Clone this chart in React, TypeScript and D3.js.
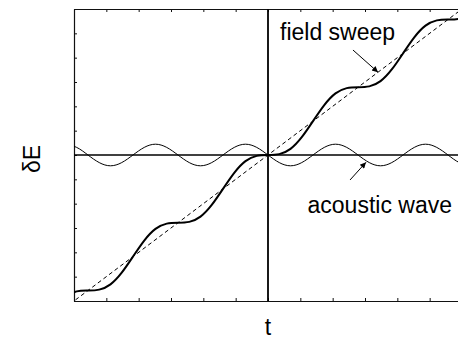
import React, { useEffect, useRef } from "react";
import * as d3 from "d3";

// time samples (eighth-period spacing)
const tGrid = [
  -1.044, -0.986, -0.928, -0.87, -0.812, -0.754, -0.696, -0.638, -0.58, -0.522,
  -0.464, -0.406, -0.348, -0.29, -0.232, -0.174, -0.116, -0.058, 0,
  0.058, 0.116, 0.174, 0.232, 0.29, 0.348, 0.406, 0.464, 0.522, 0.58,
  0.638, 0.696, 0.754, 0.812, 0.87, 0.928, 0.986, 1.044,
];
// acoustic wave δE
const waveValues = [
  0.074, 0.052, 0, -0.052, -0.074, -0.052, 0, 0.052, 0.074, 0.052,
  0, -0.052, -0.074, -0.052, 0, 0.052, 0.074, 0.052, 0,
  -0.052, -0.074, -0.052, 0, 0.052, 0.074, 0.052, 0, -0.052, -0.074,
  -0.052, 0, 0.052, 0.074, 0.052, 0, -0.052, -0.074,
];
// total δE (field sweep + acoustic wave)
const totalValues = [
  -0.97, -0.934, -0.928, -0.922, -0.886, -0.806, -0.696, -0.586, -0.506, -0.47,
  -0.464, -0.458, -0.422, -0.342, -0.232, -0.122, -0.042, -0.006, 0,
  0.006, 0.042, 0.122, 0.232, 0.342, 0.422, 0.458, 0.464, 0.47, 0.506,
  0.586, 0.696, 0.806, 0.886, 0.922, 0.928, 0.934, 0.97,
];
// field sweep (linear)
const sweepT = [-1.05, 1.05];
const sweepValues = [-1.05, 1.05];

const xTicks = [-1, -5 / 6, -4 / 6, -3 / 6, -2 / 6, -1 / 6, 0, 1 / 6, 2 / 6, 3 / 6, 4 / 6, 5 / 6, 1];
const yTicks = [-1, -5 / 6, -4 / 6, -3 / 6, -2 / 6, -1 / 6, 0, 1 / 6, 2 / 6, 3 / 6, 4 / 6, 5 / 6, 1];

const FONT = "'Liberation Sans', Arial, sans-serif";

export default function App() {
  const ref = useRef<SVGSVGElement>(null);

  useEffect(() => {
    const svg = d3.select(ref.current);
    svg.selectAll("*").remove();

    const left = 74, right = 462, top = 9, bottom = 301;
    const x = d3.scaleLinear().domain([-1, 1]).range([left, right]);
    const y = d3.scaleLinear().domain([-1, 1]).range([bottom, top]);

    const defs = svg.append("defs");
    defs.append("clipPath").attr("id", "plotclip")
      .append("rect").attr("x", left).attr("y", top)
      .attr("width", right - left).attr("height", bottom - top);
    defs.append("marker").attr("id", "arrow")
      .attr("viewBox", "0 0 10 10").attr("refX", 10).attr("refY", 5)
      .attr("markerWidth", 9).attr("markerHeight", 6)
      .attr("markerUnits", "userSpaceOnUse").attr("orient", "auto")
      .append("path").attr("d", "M0,0 L10,5 L0,10 Z").attr("fill", "#000");

    // axes (ticks inward, no labels)
    const axisStyle = (g: any) => {
      g.selectAll("path").attr("stroke", "#111").attr("stroke-width", 1.2);
      g.selectAll("line").attr("stroke", "#111").attr("stroke-width", 1);
      g.selectAll("text").remove();
    };
    svg.append("g").attr("transform", `translate(0,${bottom})`)
      .call(d3.axisBottom(x).tickValues(xTicks).tickSize(-3).tickSizeOuter(0).tickFormat(() => ""))
      .call(axisStyle);
    svg.append("g").attr("transform", `translate(0,${top})`)
      .call(d3.axisTop(x).tickValues(xTicks).tickSize(-3).tickSizeOuter(0).tickFormat(() => ""))
      .call(axisStyle);
    svg.append("g").attr("transform", `translate(${left},0)`)
      .call(d3.axisLeft(y).tickValues(yTicks).tickSize(-3).tickSizeOuter(0).tickFormat(() => ""))
      .call(axisStyle);

    const plot = svg.append("g").attr("clip-path", "url(#plotclip)");

    // center lines
    plot.append("line").attr("x1", x(0)).attr("x2", x(0)).attr("y1", top).attr("y2", bottom)
      .attr("stroke", "#000").attr("stroke-width", 1.8);
    plot.append("line").attr("x1", left).attr("x2", right).attr("y1", y(0)).attr("y2", y(0))
      .attr("stroke", "#000").attr("stroke-width", 1.5);

    const lineGen = d3.line<[number, number]>()
      .x((d) => x(d[0])).y((d) => y(d[1])).curve(d3.curveNatural);

    // field sweep dashed
    plot.append("path")
      .attr("d", d3.line<[number, number]>().x((d) => x(d[0])).y((d) => y(d[1]))(sweepT.map((t, i) => [t, sweepValues[i]])))
      .attr("fill", "none").attr("stroke", "#000").attr("stroke-width", 1)
      .attr("stroke-dasharray", "4,3");

    // acoustic wave
    plot.append("path")
      .attr("d", lineGen(tGrid.map((t, i) => [t, waveValues[i]])))
      .attr("fill", "none").attr("stroke", "#000").attr("stroke-width", 1);

    // total
    plot.append("path")
      .attr("d", lineGen(tGrid.map((t, i) => [t, totalValues[i]])))
      .attr("fill", "none").attr("stroke", "#000").attr("stroke-width", 2);

    // arrows
    svg.append("line")
      .attr("x1", x(0.438)).attr("y1", y(0.719)).attr("x2", x(0.567)).attr("y2", y(0.567))
      .attr("stroke", "#000").attr("stroke-width", 1).attr("marker-end", "url(#arrow)");
    svg.append("line")
      .attr("x1", x(0.423)).attr("y1", y(-0.171)).attr("x2", x(0.505)).attr("y2", y(-0.05))
      .attr("stroke", "#000").attr("stroke-width", 1).attr("marker-end", "url(#arrow)");

    // texts
    svg.append("text").attr("x", 280).attr("y", 40).attr("font-family", FONT)
      .attr("font-size", 23).attr("fill", "#000").text("field sweep");
    svg.append("text").attr("x", 452).attr("y", 213).attr("text-anchor", "end").attr("font-family", FONT)
      .attr("font-size", 23).attr("fill", "#000").text("acoustic wave");
    svg.append("text").attr("x", x(0)).attr("y", 335).attr("text-anchor", "middle").attr("font-family", FONT)
      .attr("font-size", 23).attr("fill", "#000").text("t");
    svg.append("text").attr("transform", `translate(40,159) rotate(-90)`)
      .attr("text-anchor", "middle").attr("font-family", FONT)
      .attr("font-size", 23).attr("fill", "#000").text("δE");
  }, []);

  return (
    <svg
      ref={ref}
      width={458}
      height={340}
      style={{ position: "absolute", left: 0, top: 0, background: "#fff" }}
    />
  );
}
